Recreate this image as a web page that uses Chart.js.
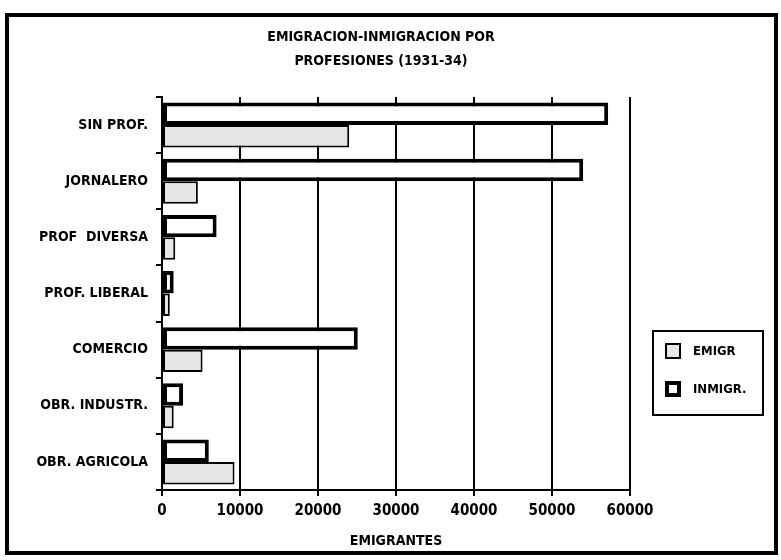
<!DOCTYPE html>
<html>
<head>
<meta charset="utf-8">
<script src="https://cdn.jsdelivr.net/npm/chart.js@4/dist/chart.umd.min.js"></script>
<style>
  html,body{margin:0;padding:0;background:#fff;}
  #wrap{width:781px;height:560px;}
</style>
</head>
<body>
<div id="wrap"><canvas id="c" width="781" height="560"></canvas></div>
<script>
const titleLines = ["EMIGRACION-INMIGRACION POR", "PROFESIONES (1931-34)"];
const categories = ["SIN PROF.", "JORNALERO", "PROF  DIVERSA", "PROF. LIBERAL", "COMERCIO", "OBR. INDUSTR.", "OBR. AGRICOLA"];
const emigr  = [24000, 4600, 1700, 1000, 5200, 1500, 9300];
const inmigr = [57200, 54000, 7000, 1500, 25100, 2700, 6000];
const xTicks = [0, 10000, 20000, 30000, 40000, 50000, 60000];
const xTitle = "EMIGRANTES";

const FONT = "'DejaVu Sans Condensed', 'Liberation Sans Narrow', sans-serif";
Chart.defaults.font.family = FONT;
Chart.defaults.color = "#000";

/* marco, titulo y leyenda */
const paper = {
  id: "paper",
  beforeDraw(chart){
    const ctx = chart.ctx;
    ctx.save();
    ctx.fillStyle = "#fff";
    ctx.fillRect(0, 0, chart.width, chart.height);
    ctx.restore();
  },
  afterDraw(chart){
    const ctx = chart.ctx;
    ctx.save();
    ctx.strokeStyle = "#000";
    ctx.lineWidth = 4;
    ctx.strokeRect(7, 15, 769, 538);

    ctx.fillStyle = "#000";
    ctx.font = "bold 14px " + FONT;
    ctx.textAlign = "center";
    ctx.textBaseline = "middle";
    ctx.fillText(titleLines[0], 381, 37);
    ctx.fillText(titleLines[1], 381, 61);

    // leyenda
    ctx.lineWidth = 2;
    ctx.strokeRect(653, 331, 110, 84);
    const items = chart.data.datasets.slice().reverse();
    ctx.textAlign = "left";
    ctx.font = "bold 13px " + FONT;
    items.forEach((ds, i) => {
      const y = 351 + i * 38;
      ctx.fillStyle = ds.backgroundColor;
      ctx.fillRect(665, y - 8, 16, 16);
      ctx.lineWidth = ds.borderWidth;
      ctx.strokeStyle = "#000";
      ctx.strokeRect(665 + ds.borderWidth / 2, y - 8 + ds.borderWidth / 2, 16 - ds.borderWidth, 16 - ds.borderWidth);
      ctx.fillStyle = "#000";
      ctx.fillText(ds.label, 693, y + 1);
    });
    ctx.restore();
  }
};

new Chart(document.getElementById("c"), {
  type: "bar",
  data: {
    labels: categories,
    datasets: [
      {label: "INMIGR.", data: inmigr, backgroundColor: "#ffffff", borderColor: "#000", borderWidth: 4, borderSkipped: false},
      {label: "EMIGR", data: emigr, backgroundColor: "#e6e6e6", borderColor: "#000", borderWidth: 2, borderSkipped: false}
    ]
  },
  options: {
    indexAxis: "y",
    responsive: false,
    animation: false,
    layout: {padding: {left: 0, right: 151, top: 97, bottom: 0}},
    datasets: {bar: {categoryPercentage: 0.8, barPercentage: 1.0}},
    plugins: {legend: {display: false}, title: {display: false}, tooltip: {enabled: false}},
    scales: {
      x: {
        min: 0, max: 60000,
        afterFit: s => { s.height = 70; },
        afterBuildTicks: s => { s.ticks = xTicks.map(v => ({value: v})); },
        ticks: {font: {size: 15, weight: "bold"}, padding: 6, maxRotation: 0, callback: v => String(v)},
        grid: {color: "#000", lineWidth: 2, tickLength: 6},
        border: {color: "#000", width: 2},
        title: {display: true, text: xTitle, font: {size: 14, weight: "bold"}, padding: {top: 0, bottom: 10}}
      },
      y: {
        afterFit: s => { s.width = 162; },
        ticks: {font: {size: 14, weight: "bold"}, padding: 8},
        grid: {drawOnChartArea: false, color: "#000", lineWidth: 2, tickLength: 6, offset: true},
        border: {color: "#000", width: 2}
      }
    }
  },
  plugins: [paper]
});
</script>
</body>
</html>
